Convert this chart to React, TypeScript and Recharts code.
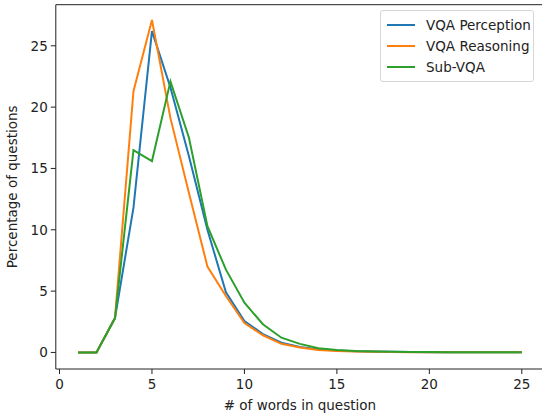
import React from 'react';
import { LineChart, Line, XAxis, YAxis, ReferenceLine } from 'recharts';

const words = [1, 2, 3, 4, 5, 6, 7, 8, 9, 10, 11, 12, 13, 14, 15, 16, 17, 18, 19, 20, 21, 22, 23, 24, 25];
const perception = [0, 0, 2.8, 11.8, 26.2, 21.6, 16.0, 10.0, 4.9, 2.55, 1.5, 0.8, 0.45, 0.25, 0.15, 0.1, 0.07, 0.05, 0.03, 0.02, 0.02, 0.01, 0.01, 0.01, 0.01];
const reasoning = [0, 0, 2.8, 21.3, 27.1, 19.1, 13.0, 7.0, 4.6, 2.4, 1.4, 0.7, 0.4, 0.2, 0.12, 0.08, 0.05, 0.03, 0.02, 0.02, 0.01, 0.01, 0.01, 0.01, 0.01];
const subVqa = [0, 0, 2.8, 16.5, 15.6, 22.1, 17.5, 10.3, 6.75, 4.05, 2.3, 1.2, 0.7, 0.35, 0.2, 0.12, 0.08, 0.05, 0.04, 0.03, 0.02, 0.02, 0.02, 0.02, 0.02];
const xTicks = [0, 5, 10, 15, 20, 25];
const yTicks = [0, 5, 10, 15, 20, 25];

const series = [
  { key: 'perception', name: 'VQA Perception', color: '#1f77b4' },
  { key: 'reasoning', name: 'VQA Reasoning', color: '#ff7f0e' },
  { key: 'subVqa', name: 'Sub-VQA', color: '#2ca02c' },
];

const data = words.map((w, i) => ({
  words: w,
  perception: perception[i],
  reasoning: reasoning[i],
  subVqa: subVqa[i],
}));

const font = '"DejaVu Sans", sans-serif';
const fs = 13.5;

const LegendBox = () => (
  <div
    style={{
      position: 'absolute',
      top: 10,
      left: 380,
      border: '1px solid #d6d6d6',
      borderRadius: 3,
      background: '#fff',
      padding: '3px 4px 4px 6px',
      fontFamily: font,
      fontSize: fs,
      color: '#222',
      width: 142,
      whiteSpace: 'nowrap',
    }}
  >
    {series.map((s) => (
      <div key={s.key} style={{ display: 'flex', alignItems: 'center', height: 21 }}>
        <div style={{ width: 28, height: 2, background: s.color, marginRight: 11, flexShrink: 0 }} />
        <span>{s.name}</span>
      </div>
    ))}
  </div>
);

const App = () => {
  return (
    <div style={{ position: 'fixed', left: 0, top: 0, width: 542, height: 413, overflow: 'hidden', background: '#fff' }}>
      <LineChart width={560} height={413} data={data} margin={{ top: 4.7, right: 16, bottom: 0, left: 0 }}>
        <XAxis
          dataKey="words"
          type="number"
          domain={[-0.2, 26.2]}
          ticks={xTicks}
          allowDataOverflow
          stroke="#222"
          tickSize={5}
          tickMargin={5}
          height={44}
          tick={{ fill: '#222', fontSize: fs, fontFamily: font }}
          label={{ value: '# of words in question', position: 'insideBottom', offset: 3, fill: '#222', fontSize: fs, fontFamily: font }}
        />
        <YAxis
          type="number"
          domain={[-1.35, 28.35]}
          ticks={yTicks}
          allowDataOverflow
          stroke="#222"
          tickSize={5}
          tickMargin={3}
          width={55.8}
          tick={{ fill: '#222', fontSize: fs, fontFamily: font }}
          label={{ value: 'Percentage of questions', angle: -90, position: 'insideLeft', offset: 12, fill: '#222', fontSize: fs, fontFamily: font, style: { textAnchor: 'middle' } }}
        />
        <ReferenceLine y={28.35} stroke="#222" strokeWidth={1} />
        <ReferenceLine x={26.2} stroke="#222" strokeWidth={1} />
        {series.map((s) => (
          <Line
            key={s.key}
            type="linear"
            dataKey={s.key}
            name={s.name}
            stroke={s.color}
            strokeWidth={2}
            dot={false}
            isAnimationActive={false}
          />
        ))}
      </LineChart>
      <LegendBox />
    </div>
  );
};

export default App;
